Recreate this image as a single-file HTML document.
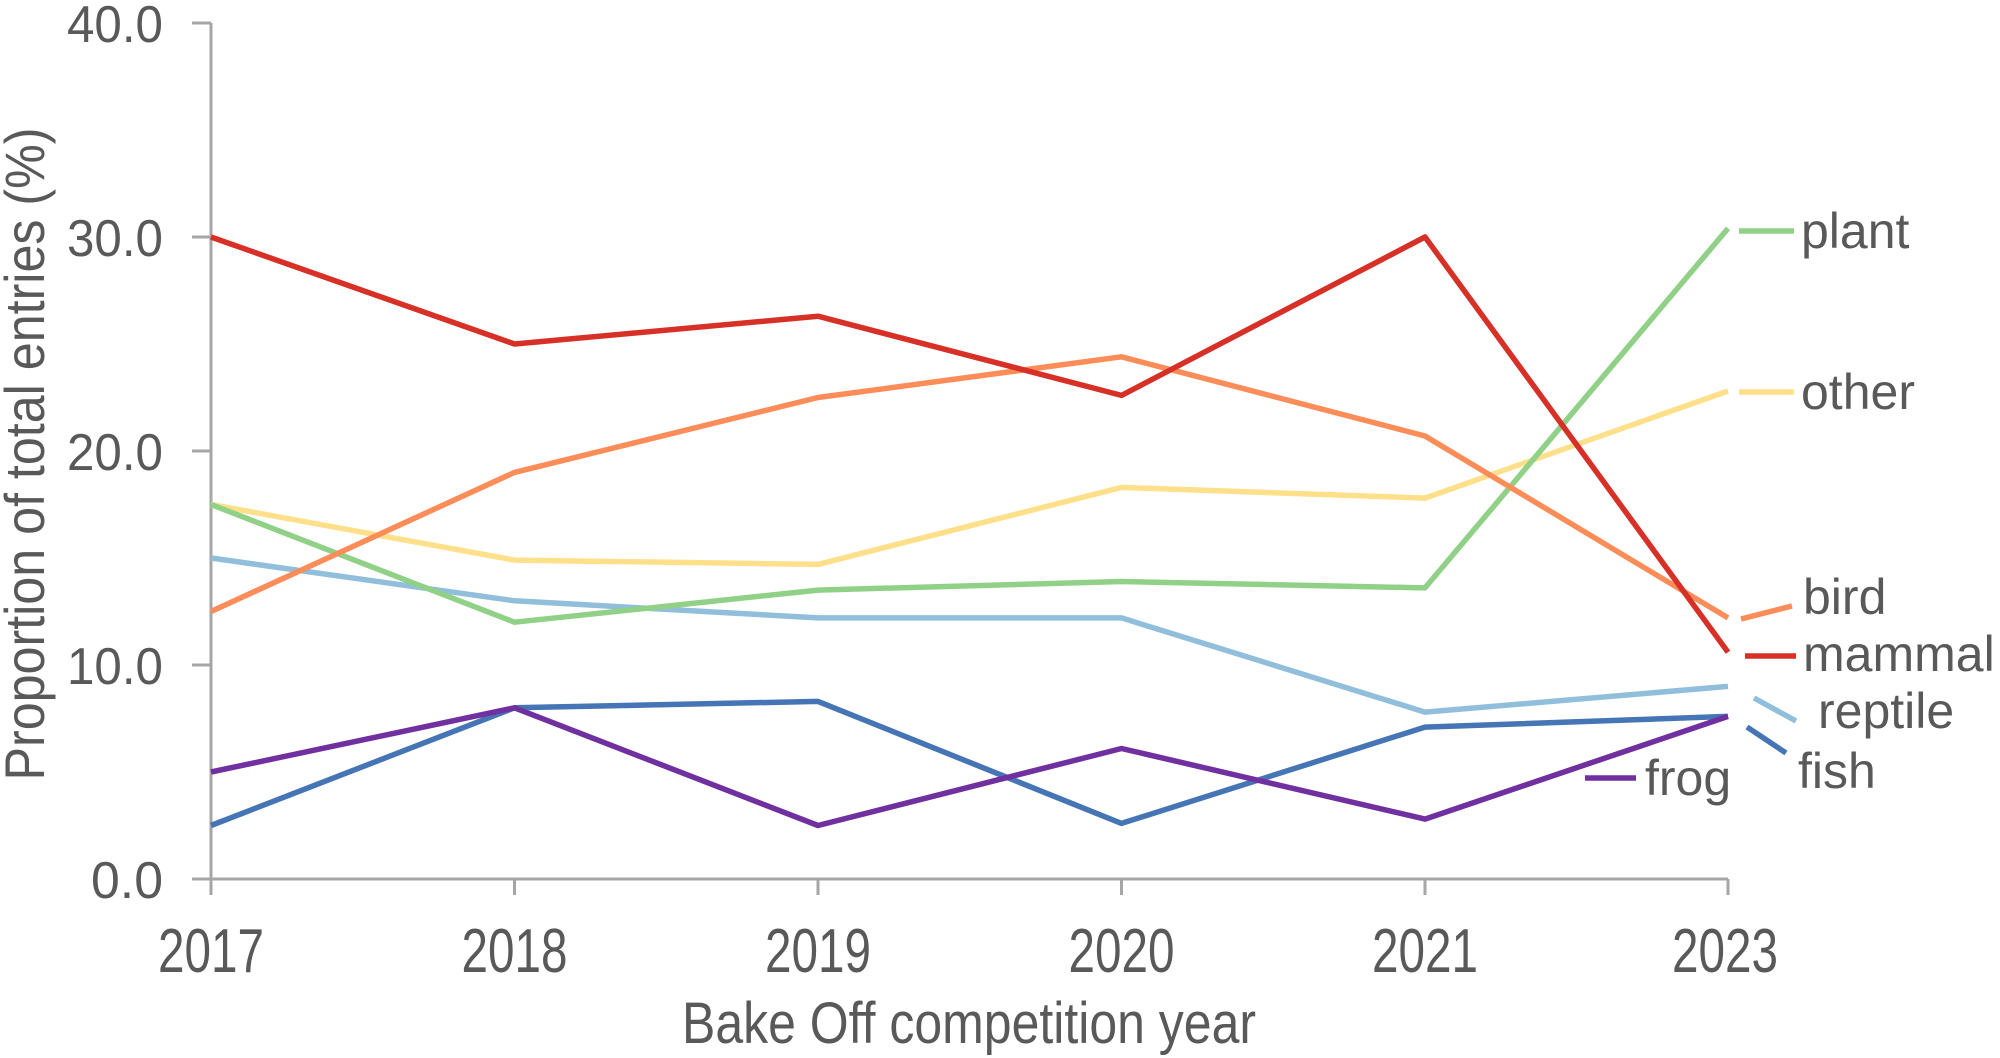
<!DOCTYPE html>
<html><head><meta charset="utf-8"><style>html,body{margin:0;padding:0;background:#fff}svg{display:block}</style></head>
<body>
<svg width="2000" height="1058" viewBox="0 0 2000 1058" xmlns="http://www.w3.org/2000/svg" font-family="Liberation Sans, sans-serif" fill="#595959">
<g stroke="#a6a6a6" stroke-width="3">
<line x1="211" y1="23" x2="211" y2="895"/>
<line x1="192" y1="879" x2="1728" y2="879"/>
<line x1="192" y1="23" x2="211" y2="23"/>
<line x1="192" y1="237" x2="211" y2="237"/>
<line x1="192" y1="451" x2="211" y2="451"/>
<line x1="192" y1="665" x2="211" y2="665"/>
<line x1="514.5" y1="879" x2="514.5" y2="895"/>
<line x1="818" y1="879" x2="818" y2="895"/>
<line x1="1121.5" y1="879" x2="1121.5" y2="895"/>
<line x1="1425" y1="879" x2="1425" y2="895"/>
<line x1="1728" y1="879" x2="1728" y2="895"/>
</g>
<g font-size="52" text-anchor="end">
<text x="163" y="42" textLength="96" lengthAdjust="spacingAndGlyphs">40.0</text>
<text x="163" y="256" textLength="96" lengthAdjust="spacingAndGlyphs">30.0</text>
<text x="163" y="470" textLength="96" lengthAdjust="spacingAndGlyphs">20.0</text>
<text x="163" y="684" textLength="96" lengthAdjust="spacingAndGlyphs">10.0</text>
<text x="163" y="898" textLength="72" lengthAdjust="spacingAndGlyphs">0.0</text>
</g>
<g font-size="62" text-anchor="middle">
<text x="211" y="972" textLength="106" lengthAdjust="spacingAndGlyphs">2017</text>
<text x="514.5" y="972" textLength="106" lengthAdjust="spacingAndGlyphs">2018</text>
<text x="818" y="972" textLength="106" lengthAdjust="spacingAndGlyphs">2019</text>
<text x="1121.5" y="972" textLength="106" lengthAdjust="spacingAndGlyphs">2020</text>
<text x="1725" y="972" textLength="106" lengthAdjust="spacingAndGlyphs">2023</text>
<text x="1425" y="972" textLength="106" lengthAdjust="spacingAndGlyphs">2021</text>
</g>
<text x="969" y="1043" font-size="58" text-anchor="middle" textLength="574" lengthAdjust="spacingAndGlyphs">Bake Off competition year</text>
<text transform="translate(44,454) rotate(-90)" font-size="56" text-anchor="middle" textLength="653" lengthAdjust="spacingAndGlyphs">Proportion of total entries (%)</text>
<g fill="none" stroke-width="5.5" stroke-linejoin="round">
<polyline stroke="#4575b4" points="211,825.5 514.5,707.8 818,701.4 1121.5,823.4 1425,727.1 1728,716.4"/>
<polyline stroke="#7030a0" points="211,772 514.5,707.8 818,825.5 1121.5,748.5 1425,819.1 1728,716.4"/>
<polyline stroke="#91bfdb" points="211,558 514.5,600.8 818,617.9 1121.5,617.9 1425,712.1 1728,686.4"/>
<polyline stroke="#fee08b" points="211,504.5 514.5,560.1 818,564.4 1121.5,487.4 1425,498.1 1728,391"/>
<polyline stroke="#91d187" points="211,504.5 514.5,622.2 818,590.1 1121.5,581.5 1425,587.9 1728,228.4"/>
<polyline stroke="#fc8d59" points="211,611.5 514.5,472.4 818,397.5 1121.5,356.8 1425,436 1728,617.9"/>
<polyline stroke="#d73027" points="211,237 514.5,344 818,316.2 1121.5,395.4 1425,237 1728,652.2"/>
<line stroke="#91d187" x1="1739" y1="231" x2="1794" y2="231"/>
<line stroke="#fee08b" x1="1739" y1="392" x2="1794" y2="392"/>
<line stroke="#fc8d59" x1="1741" y1="619" x2="1792" y2="606"/>
<line stroke="#d73027" x1="1745" y1="656" x2="1796" y2="656"/>
<line stroke="#91bfdb" x1="1754" y1="698" x2="1796" y2="721"/>
<line stroke="#4575b4" x1="1747" y1="727" x2="1786" y2="753"/>
<line stroke="#7030a0" x1="1585" y1="778" x2="1636" y2="778"/>
</g>
<g font-size="50">
<text x="1801" y="248">plant</text>
<text x="1801" y="409">other</text>
<text x="1803" y="614">bird</text>
<text x="1803" y="671">mammal</text>
<text x="1818" y="728">reptile</text>
<text x="1798" y="788">fish</text>
<text x="1645" y="795">frog</text>
</g>
</svg>
</body></html>
